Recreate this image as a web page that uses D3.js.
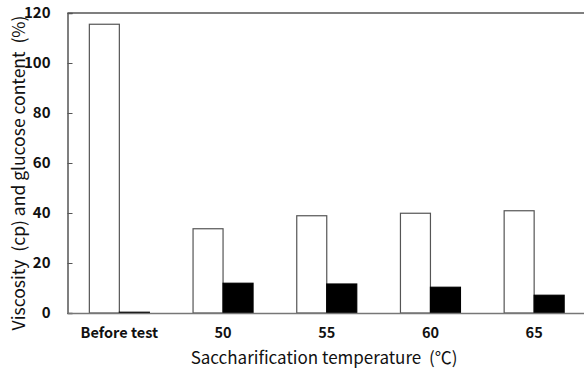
<!DOCTYPE html>
<html>
<head>
<meta charset="utf-8">
<script src="https://cdn.jsdelivr.net/npm/d3@7"></script>
<style>
  body { margin: 0; background: #fff; }
  text { font-family: "Noto Sans CJK KR", "Noto Sans", sans-serif; fill: #111; white-space: pre; }
</style>
</head>
<body>
<script>
// data
var categories = ["Before test", "50", "55", "60", "65"];
var seriesNames = ["Viscosity", "Glucose"];
var viscosity = [115.5, 33.7, 38.9, 39.9, 40.9];
var glucose = [0.3, 11.9, 11.6, 10.3, 7.1];
var yTicks = [0, 20, 40, 60, 80, 100, 120];

var W = 584, H = 372;
var margin = {top: 13, right: -2, bottom: 59, left: 67.5};
var width = W - margin.left - margin.right;
var height = H - margin.top - margin.bottom;
var font = "'Noto Sans CJK KR', 'Noto Sans', sans-serif";

var svg = d3.select("body").append("svg")
    .attr("width", W)
    .attr("height", H);

var g = svg.append("g")
    .attr("transform", "translate(" + margin.left + "," + margin.top + ")");

var x0 = d3.scaleBand()
    .domain(categories)
    .range([0, width])
    .padding(0);

var x1 = d3.scaleBand()
    .domain(seriesNames)
    .range([x0.bandwidth() / 2 - 30, x0.bandwidth() / 2 + 30])
    .padding(0);

var y = d3.scaleLinear()
    .domain([0, 120])
    .range([height, 0]);

var data = categories.map(function(c, i) {
  return {cat: c, vals: [
    {name: "Viscosity", value: viscosity[i]},
    {name: "Glucose", value: glucose[i]}
  ]};
});

// bars
var grp = g.selectAll(".grp")
    .data(data)
  .enter().append("g")
    .attr("class", "grp")
    .attr("transform", function(d) { return "translate(" + x0(d.cat) + ",0)"; });

grp.selectAll("rect")
    .data(function(d) { return d.vals; })
  .enter().append("rect")
    .attr("x", function(d) { return x1(d.name); })
    .attr("y", function(d) { return y(d.value); })
    .attr("width", x1.bandwidth())
    .attr("height", function(d) { return height - y(d.value); })
    .attr("fill", function(d) { return d.name == "Viscosity" ? "#fff" : "#000"; })
    .attr("stroke", function(d) { return d.name == "Viscosity" ? "#555" : "#000"; })
    .attr("stroke-width", 1.2);

// frame: top line, left axis, baseline
g.append("line")
    .attr("x1", 0).attr("x2", width + 2)
    .attr("y1", 0).attr("y2", 0)
    .attr("stroke", "#555").attr("stroke-width", 1.5);

var yAxis = d3.axisLeft(y)
    .tickValues(yTicks)
    .tickSize(-5)
    .tickPadding(17)
    .tickFormat(d3.format("d"));

var yAxisG = g.append("g")
    .call(yAxis);
yAxisG.select(".domain").attr("stroke", "#555").attr("stroke-width", 1.5);
yAxisG.selectAll(".tick line").attr("stroke", "#555");
yAxisG.selectAll(".tick text")
    .style("font-size", "15px")
    .style("font-weight", "bold")
    .style("font-family", font)
    .attr("fill", "#111");

var xAxis = d3.axisBottom(x0)
    .tickSize(0)
    .tickPadding(15);

var xAxisG = g.append("g")
    .attr("transform", "translate(0," + height + ")")
    .call(xAxis);
xAxisG.select(".domain").attr("stroke", "#777").attr("stroke-width", 1.5);
xAxisG.selectAll(".tick text")
    .style("font-size", "14.5px")
    .style("font-weight", "bold")
    .style("font-family", font)
    .attr("fill", "#111");

// axis titles
svg.append("text")
    .attr("transform", "translate(25,173) rotate(-90)")
    .attr("text-anchor", "middle")
    .style("font-size", "17.5px")
    .text("Viscosity  (cp) and glucose content  (%)");

svg.append("text")
    .attr("x", 324)
    .attr("y", 364)
    .attr("text-anchor", "middle")
    .style("font-size", "17px")
    .text("Saccharification temperature  (℃)");
</script>
</body>
</html>
